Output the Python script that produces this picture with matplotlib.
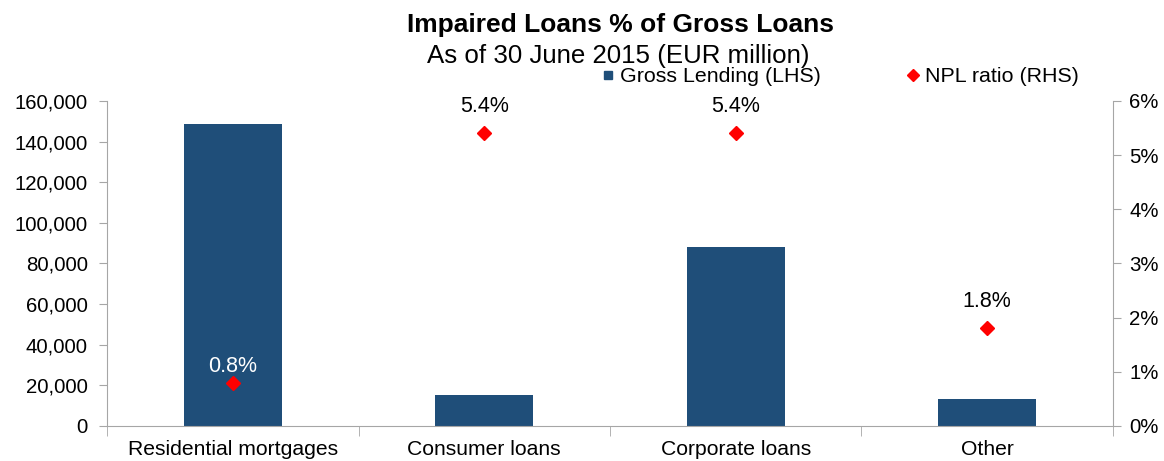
import matplotlib
matplotlib.use("Agg")
import matplotlib.pyplot as plt
from matplotlib.lines import Line2D
import numpy as np

categories = ["Residential mortgages", "Consumer loans", "Corporate loans", "Other"]
gross_lending = [148500, 15300, 88000, 13300]
npl_ratio = [0.8, 5.4, 5.4, 1.8]
npl_labels = ["0.8%", "5.4%", "5.4%", "1.8%"]
label_colors = ["white", "black", "black", "black"]
label_offsets = [4, 12, 12, 12]

plt.rcParams['font.family'] = ['Liberation Sans', 'DejaVu Sans']

bar_color = "#1F4E79"
spine_color = "#A6A6A6"

fig = plt.figure(figsize=(11.64, 4.61), dpi=100)
ax = fig.add_axes([0.092, 0.076, 0.864, 0.705])
x = np.arange(len(categories))
ax.bar(x, gross_lending, width=0.39, color=bar_color, zorder=2)
ax.set_xlim(-0.5, len(categories) - 0.5)
ax.set_ylim(0, 160000)
ax.set_yticks(np.arange(0, 160001, 20000))
ax.yaxis.set_major_formatter(matplotlib.ticker.FuncFormatter(lambda v, p: f"{int(v):,}"))
ax.set_xticks(x)
ax.set_xticklabels(categories)
ax.set_xticks(np.arange(-0.5, len(categories), 1.0), minor=True)
ax.tick_params(axis='x', which='major', length=0, labelsize=15.2, pad=10)
ax.tick_params(axis='x', which='minor', length=7, color=spine_color, direction='out')
ax.tick_params(axis='y', labelsize=14.7, length=6, color=spine_color, direction='out', pad=8)
for s in ['top', 'right']:
    ax.spines[s].set_visible(False)
for s in ['left', 'bottom']:
    ax.spines[s].set_color(spine_color)

ax2 = ax.twinx()
ax2.set_ylim(0, 6)
ax2.set_yticks(np.arange(0, 7, 1))
ax2.yaxis.set_major_formatter(matplotlib.ticker.FuncFormatter(lambda v, p: f"{int(v)}%"))
ax2.tick_params(axis='y', labelsize=14.7, length=6, color=spine_color, direction='out', pad=6)
for s in ['top', 'left', 'bottom']:
    ax2.spines[s].set_visible(False)
ax2.spines['right'].set_color(spine_color)
ax2.plot(x, npl_ratio, linestyle='none', marker='D', markersize=7, color='#FF0000', zorder=3)
for xi, v, lab, c, off in zip(x, npl_ratio, npl_labels, label_colors, label_offsets):
    ax2.annotate(lab, (xi, v), xytext=(0, off), textcoords='offset points',
                 ha='center', va='bottom', fontsize=15.5, color=c)

fig.text(0.533, 0.93, "Impaired Loans % of Gross Loans", ha='center', va='baseline',
         fontsize=19, fontweight='bold')
fig.text(0.531, 0.864, "As of 30 June 2015 (EUR million)", ha='center', va='baseline',
         fontsize=18.6)

handles = [
    Line2D([], [], linestyle='none', marker='s', markersize=6, color=bar_color),
    Line2D([], [], linestyle='none', marker='D', markersize=6.5, color='#FF0000'),
]
fig.legend(handles, ["Gross Lending (LHS)", "NPL ratio (RHS)"], ncol=2,
           loc='center', bbox_to_anchor=(0.7205, 0.833), frameon=False,
           fontsize=15.4, columnspacing=3.9, handletextpad=0.1, handlelength=0.9,
           borderpad=0, borderaxespad=0)

fig.savefig("out.png", dpi=100)
